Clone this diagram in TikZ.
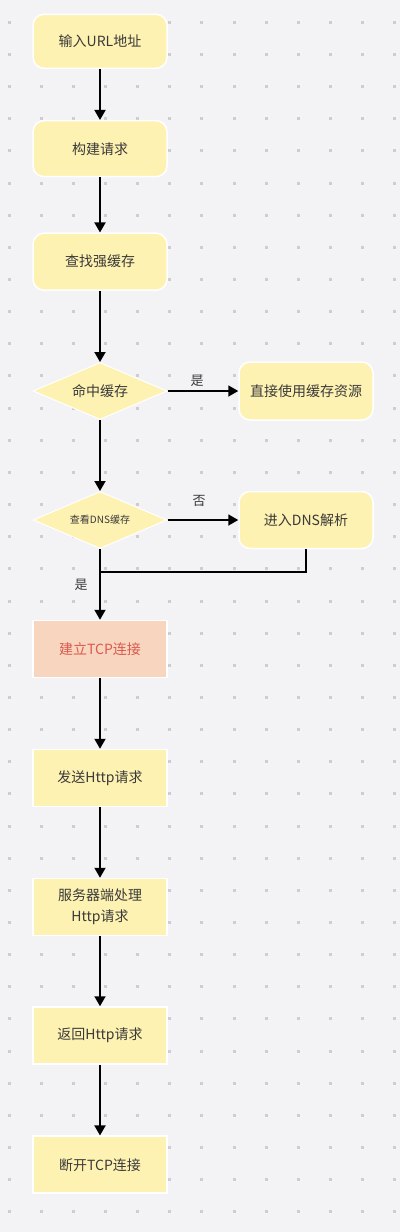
\documentclass[tikz,border=0pt]{standalone}
\usepackage{fontspec}
\setmainfont{Noto Sans CJK SC}
\usetikzlibrary{shapes.geometric,arrows.meta}
\definecolor{bg}{HTML}{F3F3F6}
\definecolor{dotc}{HTML}{CDCDD2}
\definecolor{yel}{HTML}{FEF2B2}
\definecolor{peach}{HTML}{F7D5BF}
\definecolor{txt}{HTML}{3A3A3A}
\definecolor{redt}{HTML}{DB5A4E}
\begin{document}
\begin{tikzpicture}[x=1pt,y=-1pt,
 box/.style={draw=white,line width=1.5pt,fill=yel,minimum width=134pt,minimum height=57pt,inner sep=0pt,text=txt,font=\fontsize{14}{21}\selectfont,align=center},
 rbox/.style={box,rounded corners=11pt},
 dia/.style={diamond,shape aspect=2.35,draw=white,line width=1pt,fill=yel,minimum width=134pt,minimum height=57pt,inner sep=0pt,text=txt,font=\fontsize{14}{21}\selectfont},
 arr/.style={line width=1.8pt,-{Triangle[length=10pt,width=11pt]}},
 conn/.style={line width=1.8pt},
 lab/.style={text=txt,font=\fontsize{13}{15}\selectfont,inner sep=0pt}]
\fill[bg] (0,0) rectangle (400,1232);
\useasboundingbox (0,0) rectangle (400,1232);
\foreach \i in {0,...,12}{
  \foreach \j in {0,...,37}{
    \fill[dotc] ({9+32.15*\i-1.5},{22.3+32.15*\j-1.5}) rectangle ++(3,3);
  }
}
\node[rbox,minimum height=54pt] (n1) at (100,41.3) {输入URL地址};
\node[rbox,minimum height=56pt] (n2) at (100,148.7) {构建请求};
\node[rbox] (n3) at (100,261.7) {查找强缓存};
\node[dia] (d1) at (100,391) {命中缓存};
\node[rbox,minimum height=58pt] (r1) at (306,391) {直接使用缓存资源};
\node[dia,font=\fontsize{10}{12}\selectfont] (d2) at (100,520) {查看DNS缓存};
\node[rbox] (r2) at (306,520) {进入DNS解析};
\node[box,fill=peach,text=redt] (tcp) at (100,649) {建立TCP连接};
\node[box] (send) at (100,778) {发送Http请求};
\node[box] (serv) at (100,907) {服务器端处理\\Http请求};
\node[box] (ret) at (100,1035.5) {返回Http请求};
\node[box] (disc) at (100,1164.7) {断开TCP连接};
\coordinate (j) at (100,572);
\node[lab] (l1) at (197,381) {是};
\node[lab] (l2) at (199,501) {否};
\node[lab] (l3) at (81,585) {是};
\draw[arr] (n1) -- (n2);
\draw[arr] (n2) -- (n3);
\draw[arr] (n3) -- (d1);
\draw[arr] (d1.east) -- (r1.west);
\draw[arr] (d1) -- (d2);
\draw[arr] (d2.east) -- (r2.west);
\draw[arr] (d2.south) -- (tcp.north);
\draw[conn] (r2.south) -- (r2.south |- j) -- (j);
\draw[arr] (tcp) -- (send);
\draw[arr] (send) -- (serv);
\draw[arr] (serv) -- (ret);
\draw[arr] (ret) -- (disc);
\end{tikzpicture}
\end{document}
